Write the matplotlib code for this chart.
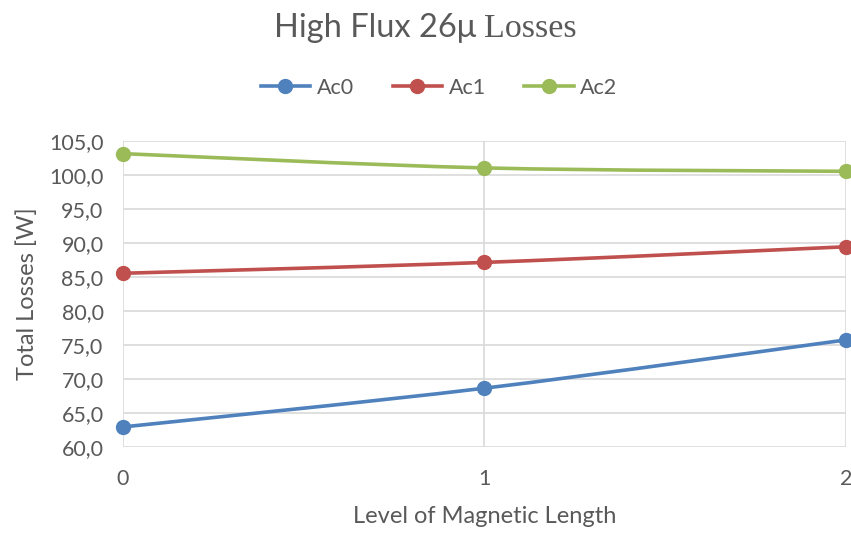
import matplotlib
matplotlib.use("Agg")
from matplotlib import pyplot as plt
from matplotlib.path import Path
from matplotlib.patches import PathPatch
from matplotlib.lines import Line2D
from matplotlib.ticker import FuncFormatter

levels = [0, 1, 2]
ac0 = [62.9, 68.6, 75.7]
ac1 = [85.5, 87.1, 89.4]
ac2 = [103.1, 101.0, 100.5]
names = ["Ac0", "Ac1", "Ac2"]
colors = ["#4f81bd", "#c0504d", "#9bbb59"]

grey = "#595959"
sans = ["Lato", "DejaVu Sans"]
plt.rcParams["font.family"] = sans


def smooth_path(xs, ys):
    # excel-like smoothed line: cubic bezier segments through the points
    verts = [(xs[0], ys[0])]
    codes = [Path.MOVETO]
    n = len(xs)
    for i in range(n - 1):
        x0, y0 = xs[max(i - 1, 0)], ys[max(i - 1, 0)]
        x1, y1 = xs[i], ys[i]
        x2, y2 = xs[i + 1], ys[i + 1]
        x3, y3 = xs[min(i + 2, n - 1)], ys[min(i + 2, n - 1)]
        c1 = (x1 + (x2 - x0) / 6, y1 + (y2 - y0) / 6)
        c2 = (x2 - (x3 - x1) / 6, y2 - (y3 - y1) / 6)
        verts += [c1, c2, (x2, y2)]
        codes += [Path.CURVE4] * 3
    return Path(verts, codes)


f = plt.figure(figsize=(8.51, 5.33), dpi=100)
ax = f.add_axes([0.1445, 0.162, 0.8495, 0.574])

for vals, name, c in zip([ac0, ac1, ac2], names, colors):
    ax.add_patch(PathPatch(smooth_path(levels, vals), fill=False, edgecolor=c,
                           lw=2.6, clip_on=False, zorder=3))
    ax.plot(levels, vals, "o", color=c, ms=10, clip_on=False, zorder=4)

ax.set_xlim(0, 2)
ax.set_ylim(60, 105)
ax.set_yticks(range(60, 106, 5))
ax.set_xticks(levels)
ax.yaxis.set_major_formatter(FuncFormatter(lambda v, p: f"{v:.1f}".replace(".", ",")))
ax.grid(True, color="#d9d9d9", lw=1.2)
ax.set_axisbelow(True)
for s in ax.spines.values():
    s.set_visible(False)
ax.tick_params(length=0, labelsize=15.5, colors=grey)
ax.tick_params(axis="y", pad=14)
ax.tick_params(axis="x", pad=16)

ax.set_ylabel("Total Losses [W]", fontsize=17, color=grey, labelpad=8)
ax.set_xlabel("Level of Magnetic Length", fontsize=17, color=grey, labelpad=12)

# title: mixed fonts
ty = 0.93
t1 = f.text(0.5, ty, "High Flux 26\u03bc ", fontsize=23.5, color=grey,
            ha="right", va="baseline", family=sans)
t2 = f.text(0.5, ty, "Losses", fontsize=24.5, color=grey, ha="left",
            va="baseline", family=["Liberation Serif", "DejaVu Serif"])
f.canvas.draw()
w1 = t1.get_window_extent().width / f.bbox.width
w2 = t2.get_window_extent().width / f.bbox.width
shift = (w1 - w2) / 2
t1.set_position((0.5 + shift, ty))
t2.set_position((0.5 + shift, ty))

handles = [Line2D([0], [0], color=c, lw=2.6, marker="o", ms=10) for c in colors]
f.legend(handles, names, loc="center", bbox_to_anchor=(0.516, 0.835), ncol=3,
         frameon=False, fontsize=15.5, labelcolor=grey, handlelength=2.3,
         handletextpad=0.3, columnspacing=1.8)

f.savefig("out.png", dpi=100)
